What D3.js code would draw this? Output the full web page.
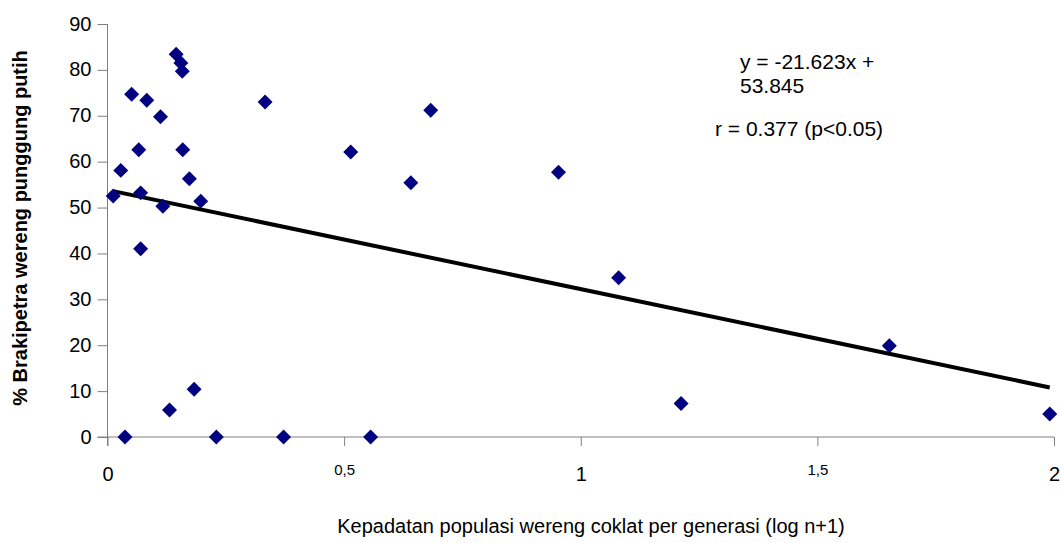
<!DOCTYPE html>
<html>
<head>
<meta charset="utf-8">
<script src="https://cdn.jsdelivr.net/npm/d3@7"></script>
<style>
  body { margin: 0; background: #fff; }
  svg text { font-family: "Liberation Sans", Arial, sans-serif; fill: #000; }
</style>
</head>
<body>
<div id="chart"></div>
<script>
// density (log n+1) vs % brachypterous
const xValues = [0.012, 0.028, 0.051, 0.066, 0.070, 0.083, 0.112, 0.117, 0.145, 0.155,
	0.158, 0.159, 0.173, 0.197, 0.333, 0.070, 0.037, 0.131, 0.183, 0.230,
	0.372, 0.556, 0.514, 0.641, 0.683, 0.953, 1.080, 1.212, 1.652, 1.991];
const yValues = [52.5, 58.1, 74.7, 62.6, 53.2, 73.4, 69.8, 50.3, 83.4, 81.5,
	79.7, 62.6, 56.3, 51.4, 73.0, 41.0, 0, 5.9, 10.4, 0,
	0, 0, 62.1, 55.4, 71.2, 57.7, 34.7, 7.3, 19.9, 5.0];

const slope = -21.623;
const intercept = 53.845;

const xTicks = [0, 0.5, 1, 1.5, 2];
const xTickLabels = ["0", "0,5", "1", "1,5", "2"];
const yTicks = [0, 10, 20, 30, 40, 50, 60, 70, 80, 90];

const eqLines = ["y = -21.623x +", "53.845"];
const rLabel = "r = 0.377 (p<0.05)";
const xTitle = "Kepadatan populasi wereng coklat per generasi (log n+1)";
const yTitle = "% Brakipetra wereng punggung putih";

const width = 1060;
const height = 543;
const margin = { left: 107.5, right: 6, top: 24, bottom: 106 };

const svg = d3.select("#chart")
	.append("svg")
	.attr("width", width)
	.attr("height", height);

const xScale = d3.scaleLinear().domain([0, 2]).range([margin.left, width - margin.right]);
const yScale = d3.scaleLinear().domain([0, 90]).range([height - margin.bottom, margin.top]);

const axisColor = "#808080";

// y axis
const yAxis = d3.axisLeft(yScale).tickValues(yTicks).tickSize(10).tickPadding(6);
const gy = svg.append("g")
	.attr("class", "y-axis")
	.attr("transform", `translate(${margin.left},0)`)
	.call(yAxis);
gy.select(".domain").remove();
gy.append("line")
	.attr("x1", 0).attr("x2", 0)
	.attr("y1", yScale(90)).attr("y2", yScale(0) + 9)
	.attr("stroke", axisColor);
gy.selectAll(".tick line").attr("stroke", axisColor);
gy.selectAll(".tick text")
	.style("font-size", "20px")
	.attr("dy", "0.3em");

// x axis
const xAxis = d3.axisBottom(xScale).tickValues(xTicks).tickSize(9).tickFormat((d, i) => xTickLabels[i]);
const gx = svg.append("g")
	.attr("class", "x-axis")
	.attr("transform", `translate(0,${yScale(0)})`)
	.call(xAxis);
gx.select(".domain").remove();
gx.append("line")
	.attr("x1", margin.left - 10).attr("x2", xScale(2))
	.attr("y1", 0).attr("y2", 0)
	.attr("stroke", axisColor);
gx.selectAll(".tick line").attr("stroke", axisColor);
gx.selectAll(".tick text")
	.attr("dy", null)
	.attr("y", (d) => d % 1 === 0 ? 44 : 38)
	.style("font-size", (d) => d % 1 === 0 ? "20px" : "15px");

// trend line
const xMin = d3.min(xValues);
const xMax = d3.max(xValues);
svg.append("line")
	.attr("class", "trend")
	.attr("x1", xScale(xMin)).attr("y1", yScale(intercept + slope * xMin))
	.attr("x2", xScale(xMax)).attr("y2", yScale(intercept + slope * xMax))
	.attr("stroke", "#000")
	.attr("stroke-width", 4);

// points
const points = xValues.map((x, i) => ({ x: x, y: yValues[i] }));
const diamond = d3.symbol().type(d3.symbolSquare).size(112);
svg.append("g")
	.selectAll("path")
	.data(points)
	.join("path")
	.attr("d", diamond)
	.attr("transform", (d) => `translate(${xScale(d.x)},${yScale(d.y)}) rotate(45)`)
	.attr("fill", "#000080");

// annotation
svg.append("text")
	.attr("x", 740)
	.attr("y", 69)
	.style("font-size", "21px")
	.selectAll("tspan")
	.data(eqLines)
	.join("tspan")
	.attr("x", 740)
	.attr("dy", (d, i) => i === 0 ? 0 : 24)
	.text((d) => d);

svg.append("text")
	.attr("x", 715)
	.attr("y", 136)
	.style("font-size", "21px")
	.text(rLabel);

// axis titles
svg.append("text")
	.attr("x", 591)
	.attr("y", 533)
	.attr("text-anchor", "middle")
	.style("font-size", "20px")
	.text(xTitle);

svg.append("text")
	.attr("transform", "translate(27,228) rotate(-90)")
	.attr("text-anchor", "middle")
	.style("font-size", "20px")
	.style("font-weight", "bold")
	.text(yTitle);
</script>
</body>
</html>
